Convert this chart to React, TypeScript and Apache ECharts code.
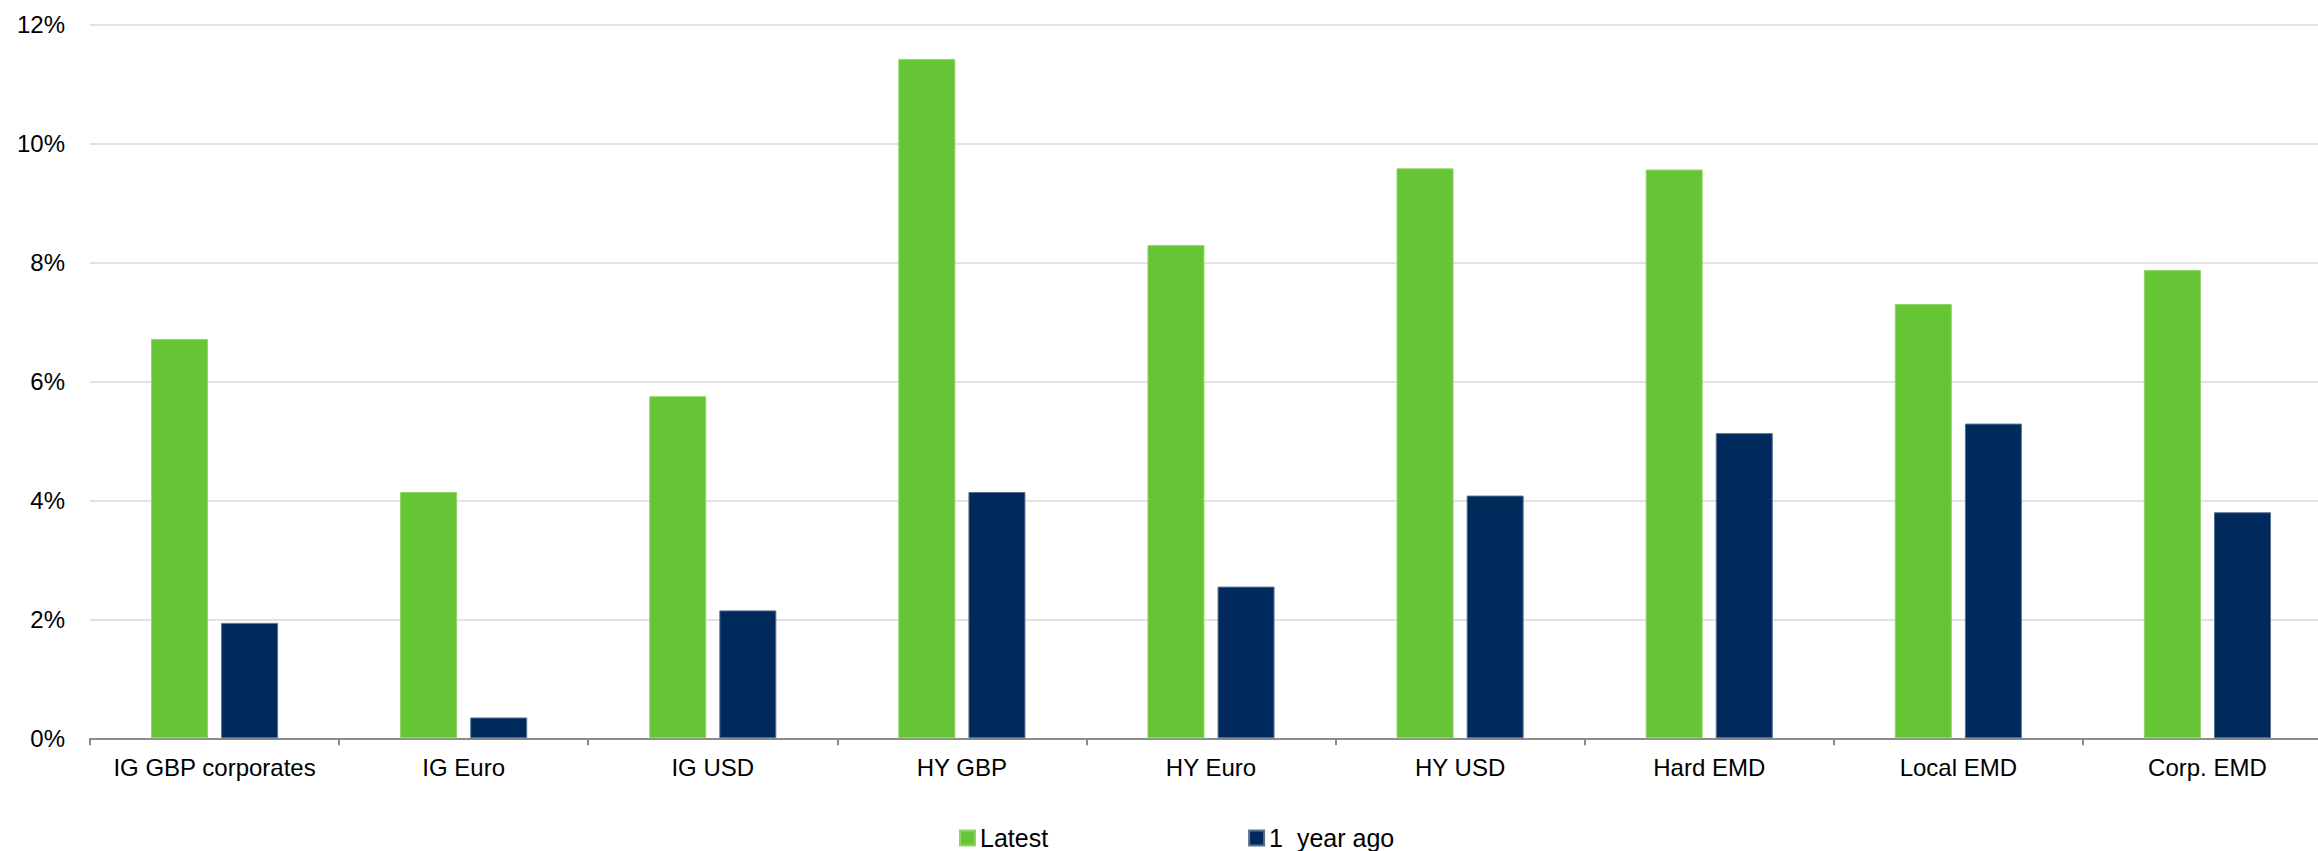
import React, { useEffect, useRef } from "react";
import * as echarts from "echarts";

const categories = [
  "IG GBP corporates",
  "IG Euro",
  "IG USD",
  "HY GBP",
  "HY Euro",
  "HY USD",
  "Hard EMD",
  "Local EMD",
  "Corp. EMD",
];
const latest = [6.71, 4.14, 5.75, 11.42, 8.29, 9.58, 9.56, 7.3, 7.87];
const yearAgo = [1.94, 0.35, 2.15, 4.14, 2.55, 4.08, 5.13, 5.29, 3.8];
const seriesNames = ["Latest", "1  year ago"];
const yTicks = { min: 0, max: 12, interval: 2 };

const FONT = "'Liberation Sans', Arial, Helvetica, sans-serif";

export default function App() {
  const ref = useRef<HTMLDivElement>(null);
  useEffect(() => {
    if (!ref.current) return;
    const chart = echarts.init(ref.current, undefined, { renderer: "svg" });
    chart.setOption({
      animation: false,
      backgroundColor: "#ffffff",
      textStyle: { fontFamily: FONT },
      grid: {
        left: 90,
        right: -14,
        top: 24.4,
        bottom: 112.7,
        containLabel: false,
        outerBoundsMode: "none",
      },
      legend: {
        left: 959,
        top: 825,
        padding: 0,
        itemWidth: 15,
        itemHeight: 15,
        itemGap: 200,
        icon: "rect",
        textStyle: {
          fontFamily: FONT,
          fontSize: 25,
          lineHeight: 26,
          color: "#000000",
        },
        data: seriesNames,
      },
      xAxis: {
        type: "category",
        data: categories,
        axisLine: { lineStyle: { color: "#8c8c8c", width: 2 } },
        axisTick: { show: true, length: 7, lineStyle: { color: "#8c8c8c", width: 2 } },
        axisLabel: { interval: 0, fontSize: 24, color: "#000000", margin: 17, fontFamily: FONT },
        splitLine: { show: false },
      },
      yAxis: {
        type: "value",
        min: yTicks.min,
        max: yTicks.max,
        interval: yTicks.interval,
        axisLine: { show: false },
        axisTick: { show: false },
        axisLabel: { formatter: "{value}%", fontSize: 24, color: "#000000", margin: 25, fontFamily: FONT },
        splitLine: { lineStyle: { color: "#d9d9d9", width: 1.5 } },
      },
      series: [
        {
          name: seriesNames[0],
          type: "bar",
          data: latest,
          barWidth: 57,
          barGap: "23%",
          itemStyle: { color: "#65c534", borderColor: "#8fd466", borderWidth: 1 },
        },
        {
          name: seriesNames[1],
          type: "bar",
          data: yearAgo,
          barWidth: 57,
          barGap: "23%",
          itemStyle: { color: "#002a5c", borderColor: "#5a7192", borderWidth: 1 },
        },
      ],
    });
    return () => chart.dispose();
  }, []);
  return (
    <div
      ref={ref}
      style={{ position: "fixed", left: 0, top: 0, width: 2318, height: 851, overflow: "hidden" }}
    />
  );
}
